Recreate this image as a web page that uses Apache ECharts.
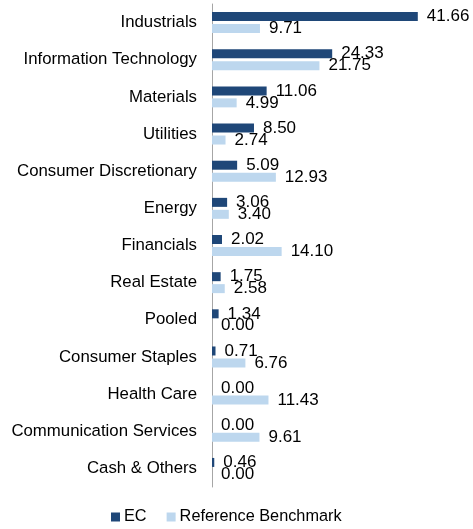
<!DOCTYPE html>
<html>
<head>
<meta charset="utf-8">
<script src="https://cdn.jsdelivr.net/npm/echarts@6/dist/echarts.min.js"></script>
<style>
  html, body { margin: 0; padding: 0; background: #fff; }
  #chart { width: 473px; height: 529px; }
</style>
</head>
<body>
<div id="chart"></div>
<script>
const categories = [
  'Industrials', 'Information Technology', 'Materials', 'Utilities',
  'Consumer Discretionary', 'Energy', 'Financials', 'Real Estate', 'Pooled',
  'Consumer Staples', 'Health Care', 'Communication Services', 'Cash & Others'
]
const ecValues = [41.66, 24.33, 11.06, 8.50, 5.09, 3.06, 2.02, 1.75, 1.34, 0.71, 0.00, 0.00, 0.46]
const benchValues = [9.71, 21.75, 4.99, 2.74, 12.93, 3.40, 14.10, 2.58, 0.00, 6.76, 11.43, 9.61, 0.00]

const chart = echarts.init(document.getElementById('chart'))

const labelStyle = {
  show: true,
  position: 'right',
  distance: 9,
  color: '#000',
  fontSize: 17,
  fontFamily: 'Liberation Sans, Arial, sans-serif',
  formatter: (p) => p.value.toFixed(2),
}

chart.setOption({
  animation: false,
  textStyle: { fontFamily: 'Liberation Sans, Arial, sans-serif' },
  grid: { left: 212, right: 14, top: 4, bottom: 42, containLabel: false },
  xAxis: {
    type: 'value',
    min: 0,
    max: 50,
    show: false,
  },
  yAxis: {
    type: 'category',
    data: categories,
    inverse: true,
    axisLine: { show: true, lineStyle: { color: '#a6a6a6', width: 1 } },
    axisTick: { show: false },
    axisLabel: { color: '#000', fontSize: 16.8, margin: 15 },
  },
  legend: {
    bottom: -1,
    left: 106,
    itemWidth: 9,
    itemHeight: 9,
    itemGap: 20,
    icon: 'rect',
    textStyle: { color: '#000', fontSize: 16.3, padding: [0, 0, 0, -1] },
    data: ['EC', 'Reference Benchmark'],
  },
  series: [
    {
      name: 'EC',
      type: 'bar',
      data: ecValues,
      barWidth: 9,
      barGap: '33%',
      itemStyle: { color: '#1f4778' },
      label: labelStyle,
    },
    {
      name: 'Reference Benchmark',
      type: 'bar',
      data: benchValues,
      barWidth: 9,
      itemStyle: { color: '#bdd7ee' },
      label: labelStyle,
    },
  ],
})
</script>
</body>
</html>
